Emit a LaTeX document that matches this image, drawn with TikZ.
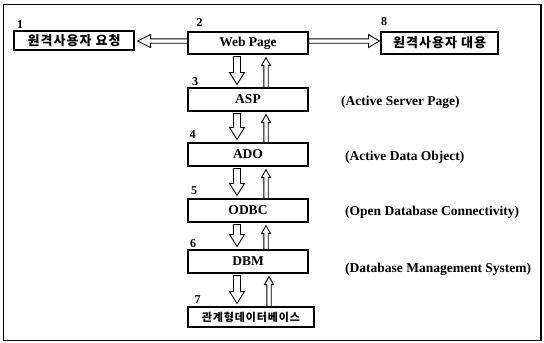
\documentclass[tikz,border=0pt]{standalone}
\usepackage{fontspec}
\setmainfont{Liberation Serif}
\newfontfamily\kr{Noto Sans CJK KR}[LetterSpace=8]
\usetikzlibrary{calc}
\tikzset{
 box/.style={draw, line width=1.1pt, minimum width=120pt, minimum height=23pt, inner sep=0pt, font=\bfseries\fontsize{13.5}{13.5}\selectfont},
 krbox/.style={box, font=\kr\bfseries\fontsize{13}{13}\selectfont},
 num/.style={font=\bfseries\fontsize{12}{12}\selectfont, inner sep=0pt},
 side/.style={anchor=west, inner sep=0pt, font=\bfseries\fontsize{13.5}{13.5}\selectfont},
 hollow/.style={draw, fill=white, line width=0.9pt, line join=miter},
}
% vertical hollow arrow: #1 start, #2 end, #3 shaft half, #4 head half, #5 head length, #6 dir (1 up, -1 down)
\newcommand\varr[6]{%
 \draw[hollow] let \p1=(#1), \p2=(#2) in
 ({\x1-#3},\y1) -- ({\x1-#3},{\y2-(#6)*(#5)}) -- ({\x1-#4},{\y2-(#6)*(#5)}) -- (\x1,\y2)
 -- ({\x1+#4},{\y2-(#6)*(#5)}) -- ({\x1+#3},{\y2-(#6)*(#5)}) -- ({\x1+#3},\y1) -- cycle;}
% horizontal hollow arrow: #6 dir (1 right, -1 left)
\newcommand\harr[6]{%
 \draw[hollow] let \p1=(#1), \p2=(#2) in
 (\x1,{\y1-#3}) -- ({\x2-(#6)*(#5)},{\y1-#3}) -- ({\x2-(#6)*(#5)},{\y1-#4}) -- (\x2,\y1)
 -- ({\x2-(#6)*(#5)},{\y1+#4}) -- ({\x2-(#6)*(#5)},{\y1+#3}) -- (\x1,{\y1+#3}) -- cycle;}
\begin{document}
\begin{tikzpicture}[x=1pt,y=1pt]
\useasboundingbox (0,0) rectangle (544,-343);
\draw[line width=1.6pt] (3.5,-4.5) rectangle (541,-340.5);

\node[krbox, minimum width=120pt, minimum height=19pt] (b1) at (74,-40.5) {원격사용자 요청};
\node[box, minimum height=22pt] (b2) at (248,-43) {Web Page};
\node[krbox, minimum width=117pt, minimum height=22pt] (b8) at (439.5,-43) {원격사용자 대용};
\node[box] (b3) at (248,-99.5) {ASP};
\node[box] (b4) at (248,-154.5) {ADO};
\node[box] (b5) at (248,-210.5) {ODBC};
\node[box] (b6) at (248,-261.5) {DBM};
\node[krbox, minimum width=126pt, minimum height=20pt, font=\kr\bfseries\fontsize{11}{11}\selectfont] (b7) at (251,-317) {관계형데이터베이스};

\node[num] (n1) at (20,-24.5) {1};
\node[num] (n2) at (199.5,-23) {2};
\node[num] (n8) at (384,-22) {8};
\node[num] (n3) at (195,-81.5) {3};
\node[num] (n4) at (192.5,-135) {4};
\node[num] (n5) at (194,-190.5) {5};
\node[num] (n6) at (193,-243.5) {6};
\node[num] (n7) at (197.5,-300) {7};

\node[side] (s3) at (341,-102) {(Active Server Page)};
\node[side] (s4) at (345,-157) {(Active Data Object)};
\node[side] (s5) at (345,-212) {(Open Database Connectivity)};
\node[side] (s6) at (345,-269) {(Database Management System)};

% horizontal arrows
\coordinate (la) at ($(b2.west)+(0,2)$);
\coordinate (lb) at ($(b1.east)+(3,1.5)$);
\harr{la}{lb}{2.2pt}{6.5pt}{13pt}{-1}
\coordinate (ra) at ($(b2.east)+(0,2)$);
\coordinate (rb) at ($(b8.west)+(-1,2)$);
\harr{ra}{rb}{2.2pt}{6.5pt}{11pt}{1}

% vertical arrows
\foreach \u/\l in {b2/b3,b3/b4,b4/b5,b5/b6,b6/b7}{
 \coordinate (ds) at ($(\u.south)+(-11,-2)$);
 \coordinate (de) at ($(\l.north)+(-11,3)$);
 \coordinate (us) at ($(\l.north)+(18,0)$);
 \coordinate (ue) at ($(\u.south)+(18,-3)$);
 \varr{ds}{de}{3.5pt}{7.5pt}{12pt}{-1}
 \varr{us}{ue}{2.2pt}{4.5pt}{8pt}{1}
}
\end{tikzpicture}
\end{document}
